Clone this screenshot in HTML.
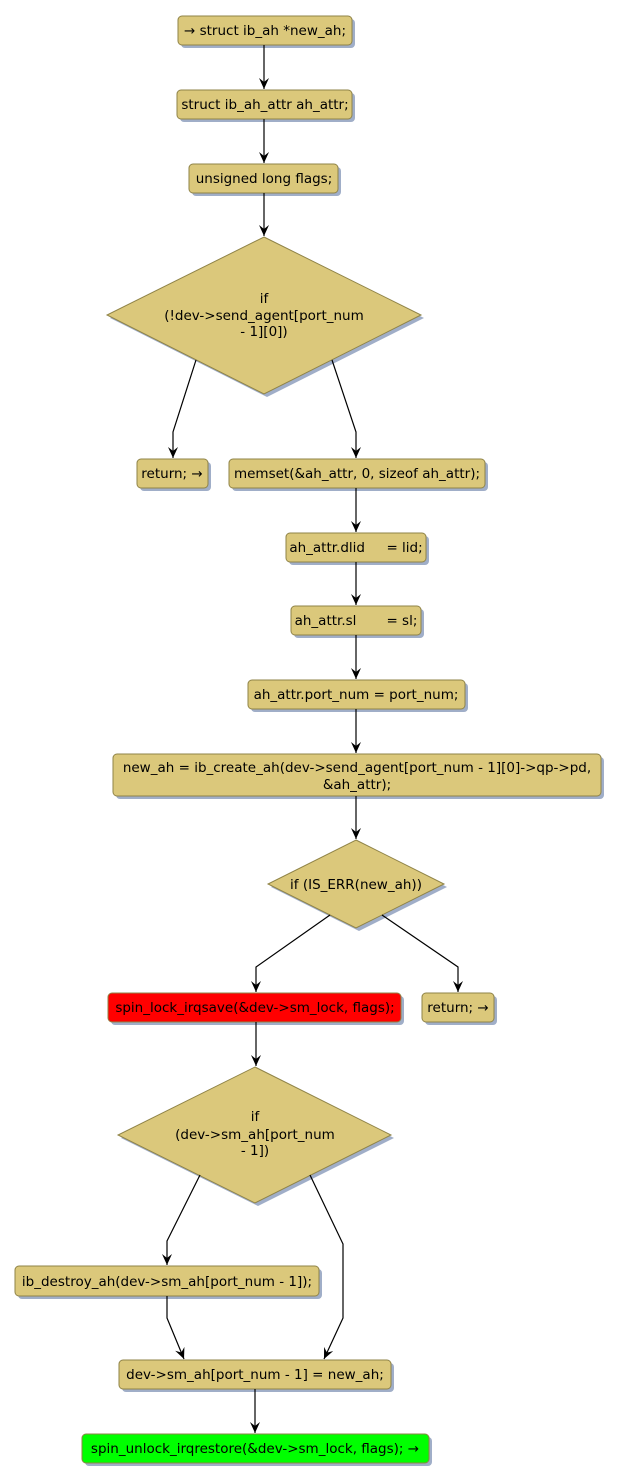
<!DOCTYPE html>
<html><head><meta charset="utf-8"><style>body{margin:0;background:#fff}svg{display:block}text{font-family:"DejaVu Sans","Liberation Sans",sans-serif;font-size:13.5px;fill:#000}</style></head><body>
<svg width="619" height="1483" viewBox="0 0 619 1483" xmlns="http://www.w3.org/2000/svg">
<defs><marker id="a" markerWidth="12" markerHeight="10" refX="11" refY="5" orient="auto" markerUnits="userSpaceOnUse" viewBox="0 0 12 10"><path d="M0,0 L11,5 L0,10 L4,5 Z" fill="#000"/></marker></defs>
<g fill="#a0aec8">
<rect x="181" y="19" width="174" height="29" rx="4"/>
<rect x="180" y="93" width="175" height="29" rx="4"/>
<rect x="192" y="167" width="149" height="29" rx="4"/>
<polygon points="267,240 424,318 267,397 110,318"/>
<rect x="140" y="462" width="71" height="29" rx="4"/>
<rect x="232" y="462" width="256" height="29" rx="4"/>
<rect x="289" y="536" width="140" height="29" rx="4"/>
<rect x="294" y="609" width="130" height="29" rx="4"/>
<rect x="251" y="683" width="217" height="29" rx="4"/>
<rect x="116" y="757" width="488" height="42" rx="4"/>
<polygon points="359,843 447,887 359,931 271,887"/>
<rect x="111" y="996" width="293" height="29" rx="4"/>
<rect x="425" y="996" width="72" height="29" rx="4"/>
<polygon points="258,1070 394,1138 258,1206 121,1138"/>
<rect x="18" y="1269" width="304" height="30" rx="4"/>
<rect x="122" y="1363" width="272" height="29" rx="4"/>
<rect x="85" y="1437" width="347" height="29" rx="4"/>
</g>
<g fill="#dbc87b" stroke="#8f8347" stroke-width="1">
<rect x="178" y="16" width="174" height="29" rx="4"/>
<rect x="177" y="90" width="175" height="29" rx="4"/>
<rect x="189" y="164" width="149" height="29" rx="4"/>
<polygon points="264,237 421,315 264,394 107,315"/>
<rect x="137" y="459" width="71" height="29" rx="4"/>
<rect x="229" y="459" width="256" height="29" rx="4"/>
<rect x="286" y="533" width="140" height="29" rx="4"/>
<rect x="291" y="606" width="130" height="29" rx="4"/>
<rect x="248" y="680" width="217" height="29" rx="4"/>
<rect x="113" y="754" width="488" height="42" rx="4"/>
<polygon points="356,840 444,884 356,928 268,884"/>
<rect x="108" y="993" width="293" height="29" rx="4" fill="#ff0000"/>
<rect x="422" y="993" width="72" height="29" rx="4"/>
<polygon points="255,1067 391,1135 255,1203 118,1135"/>
<rect x="15" y="1266" width="304" height="30" rx="4"/>
<rect x="119" y="1360" width="272" height="29" rx="4"/>
<rect x="82" y="1434" width="347" height="29" rx="4" fill="#00ff00"/>
</g>
<g stroke="#000" stroke-width="1.2" fill="none" marker-end="url(#a)">
<path d="M264,45 V89"/><path d="M264,119 V163"/><path d="M264,193 V236"/>
<path d="M196,360 L173,432 V458"/><path d="M332,360 L356,432 V458"/>
<path d="M356,488 V532"/><path d="M356,562 V605"/><path d="M356,635 V679"/><path d="M356,709 V753"/><path d="M356,796 V839"/>
<path d="M330,915 L256,967 V992"/><path d="M382,915 L458,967 V992"/>
<path d="M256,1022 V1066"/>
<path d="M200,1175 L167,1241 V1265"/><path d="M310,1175 L343,1244 V1318 L324,1359"/>
<path d="M167,1296 V1318 L184,1359"/>
<path d="M255,1389 V1433"/>
</g>
<g text-anchor="middle">
<text x="265" y="35">→ struct ib_ah *new_ah;</text>
<text x="265" y="109">struct ib_ah_attr ah_attr;</text>
<text x="264" y="183">unsigned long flags;</text>
<text x="264" y="303">if</text><text x="264" y="320">(!dev-&gt;send_agent[port_num</text><text x="264" y="336">- 1][0])</text>
<text x="172" y="478">return; →</text>
<text x="357" y="478">memset(&amp;ah_attr, 0, sizeof ah_attr);</text>
<text x="356" y="552" xml:space="preserve">ah_attr.dlid     = lid;</text>
<text x="356" y="625" xml:space="preserve">ah_attr.sl       = sl;</text>
<text x="356" y="699">ah_attr.port_num = port_num;</text>
<text x="357" y="772">new_ah = ib_create_ah(dev-&gt;send_agent[port_num - 1][0]-&gt;qp-&gt;pd,</text>
<text x="357" y="789">&amp;ah_attr);</text>
<text x="356" y="889">if (IS_ERR(new_ah))</text>
<text x="255" y="1012">spin_lock_irqsave(&amp;dev-&gt;sm_lock, flags);</text>
<text x="458" y="1012">return; →</text>
<text x="255" y="1121">if</text><text x="255" y="1139">(dev-&gt;sm_ah[port_num</text><text x="255" y="1155">- 1])</text>
<text x="167" y="1286">ib_destroy_ah(dev-&gt;sm_ah[port_num - 1]);</text>
<text x="255" y="1379">dev-&gt;sm_ah[port_num - 1] = new_ah;</text>
<text x="255" y="1453">spin_unlock_irqrestore(&amp;dev-&gt;sm_lock, flags); →</text>
</g>
</svg>
</body></html>
